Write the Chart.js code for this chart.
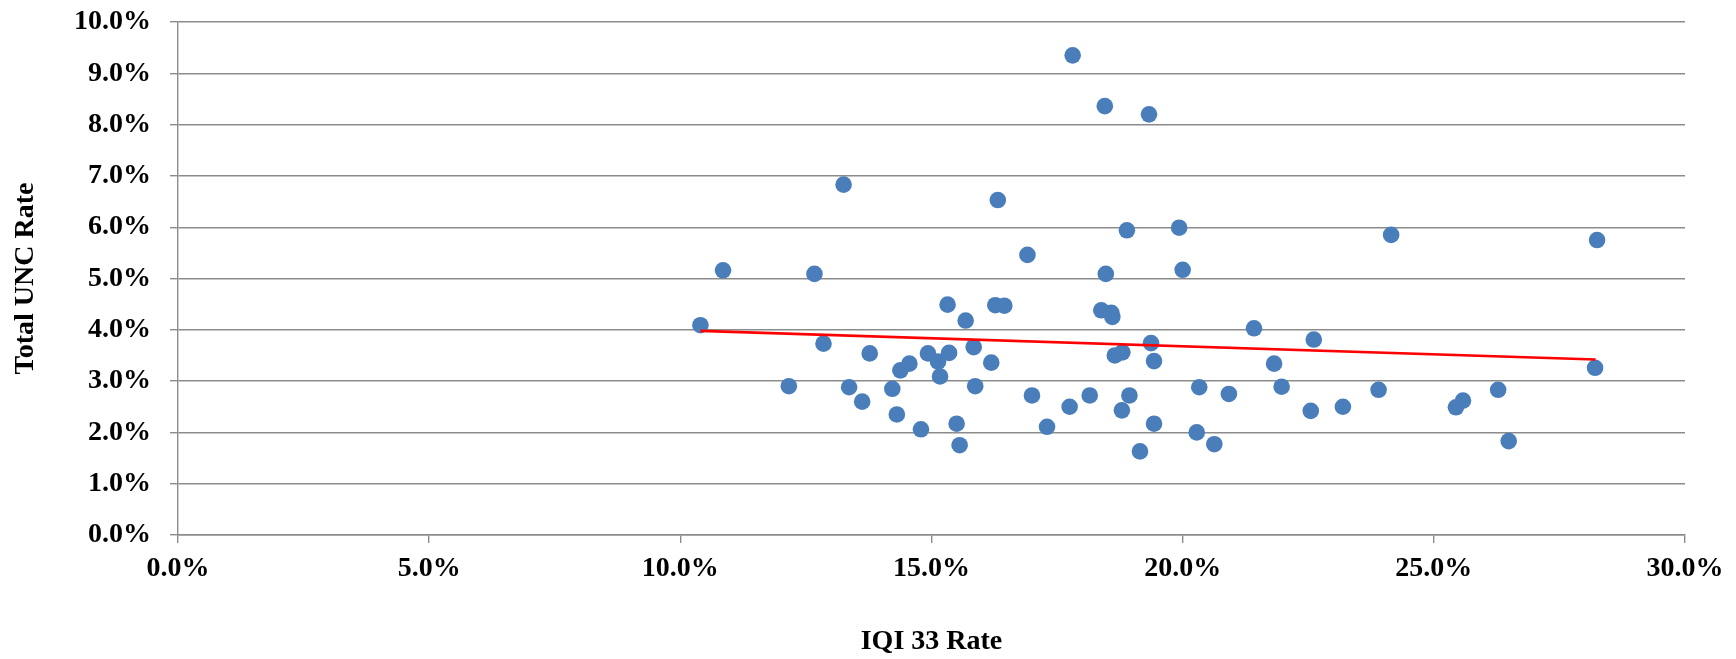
<!DOCTYPE html>
<html>
<head>
<meta charset="utf-8">
<script src="https://cdn.jsdelivr.net/npm/chart.js@4"></script>
<style>
  html, body { margin: 0; padding: 0; background: #fff; }
  #wrap { width: 1736px; height: 659px; }
</style>
</head>
<body>
<div id="wrap"><canvas id="scatter"></canvas></div>
<script>
// IQI 33 rate (x) and total UNC rate (y), both in percent
const iqiRate = [
    10.40, 10.85, 12.67, 12.16, 12.85, 13.25, 13.36, 13.62, 13.77, 14.22,
    14.31, 14.38, 14.56, 14.79, 14.93, 15.13, 15.17, 15.32, 15.35, 15.50,
    15.56, 15.68, 15.84, 15.87, 16.19, 16.27, 16.32, 16.45, 16.91, 17.00,
    17.30, 17.75, 17.81, 18.15, 18.38, 18.45, 18.47, 18.58, 18.60, 18.65,
    18.80, 18.79, 18.89, 18.94, 19.15, 19.33, 19.37, 19.43, 19.43, 19.93,
    20.00, 20.33, 20.28, 20.63, 20.92, 21.42, 21.82, 21.97, 22.55, 22.61,
    23.19, 23.90, 24.15, 25.44, 25.58, 26.28, 26.49, 28.25, 28.21
];
const uncRate = [
    4.09, 5.16, 5.09, 2.90, 3.73, 6.83, 2.88, 2.60, 3.54, 2.85,
    2.35, 3.21, 3.34, 2.06, 3.54, 3.38, 3.09, 4.49, 3.55, 2.17,
    1.75, 4.18, 3.66, 2.90, 3.36, 4.48, 6.53, 4.47, 5.46, 2.72,
    2.11, 2.50, 9.35, 2.72, 4.38, 8.36, 5.09, 4.33, 4.25, 3.50,
    3.56, 2.43, 5.94, 2.72, 1.63, 8.20, 3.74, 3.39, 2.17, 5.99,
    5.17, 2.88, 2.00, 1.77, 2.75, 4.03, 3.34, 2.89, 2.42, 3.81,
    2.50, 2.83, 5.85, 2.49, 2.62, 2.83, 1.83, 5.75, 3.26
];

// linear trend line end points
const trendX = [10.40, 28.22];
const trendY = [3.98, 3.42];

const xTicks = [0, 5, 10, 15, 20, 25, 30];
const yTicks = [0, 1, 2, 3, 4, 5, 6, 7, 8, 9, 10];

const serif = "'Liberation Serif', 'Times New Roman', serif";
const gridGray = '#8c8c8c';

function toPoints(xs, ys) {
    return xs.map((x, i) => ({ x: x, y: ys[i] }));
}

const ctx = document.getElementById('scatter').getContext('2d');
new Chart(ctx, {
    type: 'scatter',
    data: {
        datasets: [{
            label: 'Total UNC Rate',
            data: toPoints(iqiRate, uncRate),
            backgroundColor: '#4a7ebb',
            borderColor: '#4a7ebb',
            borderWidth: 0,
            pointRadius: 8.3,
            order: 2
        }, {
            type: 'line',
            label: 'Linear trend',
            data: toPoints(trendX, trendY),
            borderColor: '#ff0000',
            borderWidth: 2.6,
            pointRadius: 0,
            fill: false,
            order: 1
        }]
    },
    options: {
        responsive: true,
        maintainAspectRatio: false,
        animation: false,
        layout: { padding: { top: 22, right: 51, bottom: 0, left: 0 } },
        plugins: {
            legend: { display: false },
            tooltip: { enabled: false }
        },
        scales: {
            x: {
                type: 'linear',
                min: 0,
                max: 30,
                afterBuildTicks: axis => { axis.ticks = xTicks.map(v => ({ value: v })); },
                afterFit: axis => {
                    axis.height = 124;
                    axis.paddingLeft = 0;
                    axis.paddingRight = 0;
                },
                ticks: {
                    color: '#000',
                    font: { family: serif, size: 28, weight: 'bold' },
                    padding: 9,
                    maxRotation: 0,
                    callback: v => v.toFixed(1) + '%'
                },
                grid: {
                    drawOnChartArea: false,
                    color: gridGray,
                    lineWidth: 1.4,
                    tickLength: 8
                },
                border: { color: gridGray, width: 1.4 },
                title: {
                    display: true,
                    text: 'IQI 33 Rate',
                    color: '#000',
                    font: { family: serif, size: 28, weight: 'bold' },
                    padding: { top: 0, bottom: 0 }
                }
            },
            y: {
                type: 'linear',
                min: 0,
                max: 10,
                afterBuildTicks: axis => { axis.ticks = yTicks.map(v => ({ value: v })); },
                afterFit: axis => {
                    axis.width = 178;
                    axis.paddingTop = 0;
                    axis.paddingBottom = 0;
                },
                ticks: {
                    color: '#000',
                    font: { family: serif, size: 28, weight: 'bold' },
                    padding: 19,
                    callback: v => v.toFixed(1) + '%'
                },
                grid: {
                    color: gridGray,
                    lineWidth: 1.4,
                    tickLength: 8
                },
                border: { color: gridGray, width: 1.4 },
                title: {
                    display: true,
                    text: 'Total UNC Rate',
                    color: '#000',
                    font: { family: serif, size: 28, weight: 'bold' },
                    padding: { top: 9, bottom: 0 }
                }
            }
        }
    }
});
</script>
</body>
</html>
